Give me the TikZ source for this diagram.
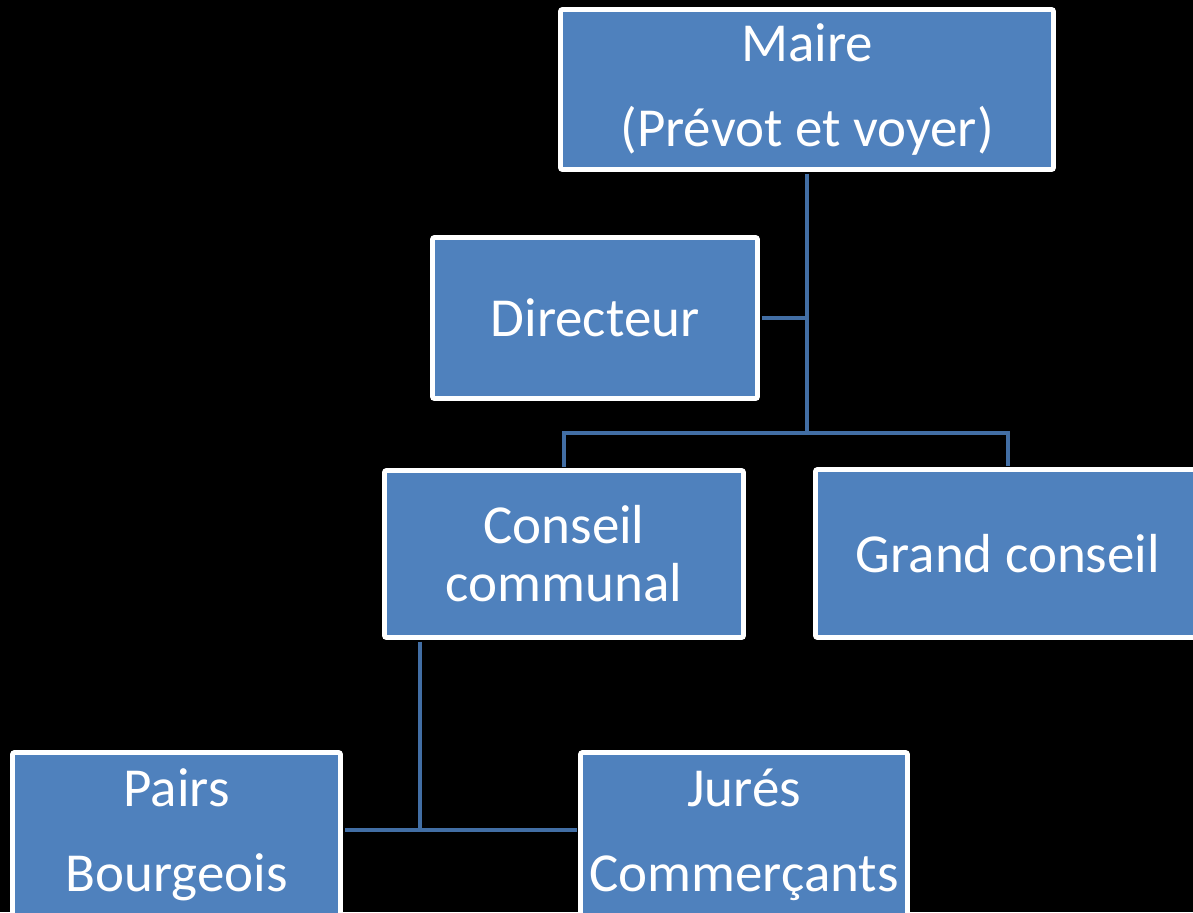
\documentclass[tikz,border=0pt]{standalone}
\usepackage{fontspec}
\setmainfont{Carlito}
\usetikzlibrary{positioning}
\definecolor{boxblue}{HTML}{4F81BD}
\definecolor{linkblue}{RGB}{66,110,164}

\begin{document}
\begin{tikzpicture}[x=0.5pt,y=-0.5pt]
	\tikzset{box/.style={draw=white,fill=boxblue,line width=2.4pt,rounded corners=1pt,inner sep=0pt,align=center,text=white,font=\fontsize{27.5}{29}\selectfont},
		link/.style={draw=linkblue,line width=2.2pt}}
	\fill[black] (0,0) rectangle (1193,912);
	\clip (0,0) rectangle (1193,912);
	\coordinate (split) at (807,433);
	\coordinate (low) at (420,830);
	\node[box,minimum width=246.5pt,minimum height=80pt] (maire) at (807,89.5) {Maire\\[14pt](Prévot et voyer)};
	\node[box,minimum width=162.5pt,minimum height=80.5pt] (dir) at (595,318) {Directeur};
	\node[box,minimum width=179.5pt,minimum height=83.5pt] (conseil) at (564,554) {Conseil\\communal};
	\node[box,minimum width=192.5pt,minimum height=84pt] (grand) at (1008,553.5) {Grand conseil};
	\node[box,minimum width=164pt,minimum height=82.5pt] (pairs) at (176.5,835) {Pairs\\[13.5pt]Bourgeois};
	\node[box,minimum width=163.5pt,minimum height=82.5pt] (jures) at (744,835) {Jurés\\[13.5pt]Commerçants};
	\path[link,shorten <=0.8pt]
		(maire) edge (split)
		(dir.east |- 0,318) edge (split |- 0,318)
		(conseil.south -| low) edge (low);
	\draw[link,shorten <=0.8pt,shorten >=0.8pt] (conseil.north) |- (split) -| (grand.north);
	\draw[link,shorten <=0.8pt,shorten >=0.8pt] (pairs.east |- low) -- (jures.west |- low);
\end{tikzpicture}
\end{document}
